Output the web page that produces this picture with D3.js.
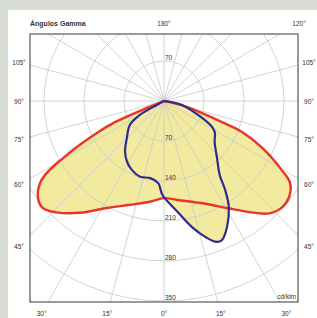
<!DOCTYPE html>
<html>
<head>
<meta charset="utf-8">
<script src="https://cdn.jsdelivr.net/npm/d3@7"></script>
<style>
  body { margin: 0; background: #d7dcd4; }
  text { font-family: "Liberation Sans", Arial, sans-serif; fill: #333; }
</style>
</head>
<body>
<div id="chart"></div>
<script>
// gamma angle from nadir (deg, right = positive) and intensity in cd/klm
var redAngles = [-70, -68, -66.5, -64.5, -62.5, -60.5, -58.5, -56.5, -52.5, -48.5, -44, -37, -28, -18, -8, 0,
	8, 20, 31, 37.5, 43, 48, 52.5, 57, 59.5, 64.5, 68.3, 70, 72.5, 77, 85];
var redValues = [0, 30, 97, 130, 166, 203, 240, 260, 278, 283, 271, 245, 212, 191, 178, 170,
	175, 190, 219, 245, 269, 278, 276, 263, 240, 190, 147, 108, 70, 32, 0];

var blueAngles = [-63, -61, -60, -55, -45, -37.5, -31, -25, -17.5, -10, -4, -1,
	7.5, 12.5, 17, 20, 22.5, 26.5, 31.5, 34.5, 37, 43, 51, 58, 61.5, 66, 77.5, 88];
var blueValues = [0, 22, 49, 73, 92, 112, 125, 133, 139, 137, 144, 164,
	198, 226, 249, 262, 264, 247, 217, 189, 162, 136, 114, 105, 96, 73, 32, 0];

var ringValues = [70, 140, 210, 280, 350, 420];
var ringLabels = [70, 140, 210, 280, 350];
var sideTicks = [105, 90, 75, 60, 45];
var bottomTicks = [-30, -15, 0, 15, 30];
var topTicks = [180, 120];

var width = 317;
var height = 318;
var frame = { x: 30, y: 34, w: 268, h: 268 };
var cx = 164;
var cy = 101;

var svg = d3.select('#chart')
	.append('svg')
	.attr('width', width)
	.attr('height', height);

svg.append('rect')
	.attr('width', width)
	.attr('height', height)
	.attr('fill', '#d7dcd4');

svg.append('rect')
	.attr('x', 8)
	.attr('y', 10)
	.attr('width', width - 8)
	.attr('height', height - 10)
	.attr('fill', '#ffffff');

var rScale = d3.scaleLinear()
	.domain([0, 350])
	.range([0, 200]);

// nadir angle -> d3 radial angle
function toRad(deg) {
	return Math.PI - deg * Math.PI / 180;
}

svg.append('clipPath')
	.attr('id', 'frame-clip')
	.append('rect')
	.attr('x', frame.x)
	.attr('y', frame.y)
	.attr('width', frame.w)
	.attr('height', frame.h);

var plot = svg.append('g')
	.attr('clip-path', 'url(#frame-clip)')
	.append('g')
	.attr('transform', 'translate(' + cx + ',' + cy + ')');

var line = d3.lineRadial()
	.angle(function(d) { return toRad(d[0]); })
	.radius(function(d) { return rScale(d[1]); })
	.curve(d3.curveCatmullRom.alpha(0.5));

var redData = d3.zip(redAngles, redValues);
var blueData = d3.zip(blueAngles, blueValues);

// fills first
[redData, blueData].forEach(function(data) {
	plot.append('path')
		.attr('d', line(data) + 'Z')
		.attr('fill', '#f2ea9f')
		.attr('stroke', 'none');
});

// grid
plot.selectAll('.ring')
	.data(ringValues)
	.enter()
	.append('circle')
	.attr('r', function(d) { return rScale(d); })
	.attr('fill', 'none')
	.attr('stroke', '#c9c9c9')
	.attr('stroke-width', 0.8);

plot.selectAll('.spoke')
	.data(d3.range(0, 360, 15))
	.enter()
	.append('line')
	.attr('x2', function(d) { return 400 * Math.sin(d * Math.PI / 180); })
	.attr('y2', function(d) { return 400 * Math.cos(d * Math.PI / 180); })
	.attr('stroke', '#c9c9c9')
	.attr('stroke-width', 0.8);

plot.append('path')
	.attr('d', line(redData))
	.attr('fill', 'none')
	.attr('stroke', '#e8342a')
	.attr('stroke-width', 2.4)
	.attr('stroke-linejoin', 'round');

plot.append('path')
	.attr('d', line(blueData))
	.attr('fill', 'none')
	.attr('stroke', '#2e2b8e')
	.attr('stroke-width', 2.2)
	.attr('stroke-linejoin', 'round');

// ring labels
plot.selectAll('.rl')
	.data(ringLabels)
	.enter()
	.append('text')
	.attr('x', 1)
	.attr('y', function(d) { return rScale(d) - 1.5; })
	.attr('font-size', '6.5px')
	.text(function(d) { return d; });

plot.append('text')
	.attr('x', 1)
	.attr('y', -rScale(70) - 1.5)
	.attr('font-size', '6.5px')
	.text(70);

svg.append('rect')
	.attr('x', frame.x)
	.attr('y', frame.y)
	.attr('width', frame.w)
	.attr('height', frame.h)
	.attr('fill', 'none')
	.attr('stroke', '#555')
	.attr('stroke-width', 1.2);

// angle labels on an outer box
var labelDx = 145;
var labelTop = 23;
var labelBottom = 313;

function addLabel(x, y, txt) {
	svg.append('text')
		.attr('x', x)
		.attr('y', y)
		.attr('text-anchor', 'middle')
		.attr('dominant-baseline', 'central')
		.attr('font-size', '6.5px')
		.text(txt);
}

sideTicks.forEach(function(a) {
	var dy = labelDx / Math.tan(a * Math.PI / 180);
	addLabel(cx - labelDx, cy + dy, a + '°');
	addLabel(cx + labelDx, cy + dy, a + '°');
});

bottomTicks.forEach(function(a) {
	var dx = (labelBottom - cy) * Math.tan(a * Math.PI / 180);
	addLabel(cx + dx, labelBottom, Math.abs(a) + '°');
});

topTicks.forEach(function(a) {
	var dx = (cy - labelTop) * Math.tan((180 - a) * Math.PI / 180);
	addLabel(cx + dx, labelTop, a + '°');
});

svg.append('text')
	.attr('x', frame.x)
	.attr('y', labelTop)
	.attr('dominant-baseline', 'central')
	.attr('font-size', '7px')
	.attr('font-weight', 'bold')
	.text('Ángulos Gamma');

svg.append('text')
	.attr('x', frame.x + frame.w - 2)
	.attr('y', frame.y + frame.h - 3)
	.attr('text-anchor', 'end')
	.attr('font-size', '6.5px')
	.text('cd/klm');
</script>
</body>
</html>
